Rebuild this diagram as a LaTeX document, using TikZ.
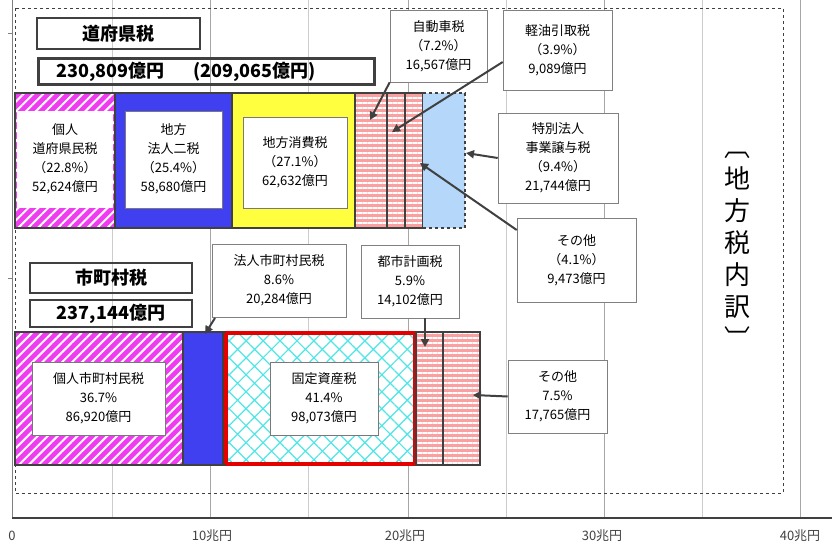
\documentclass[tikz,border=0pt]{standalone}
\usepackage{fontspec}
\setmainfont{Noto Sans CJK JP}
\usetikzlibrary{patterns,patterns.meta,arrows.meta}
\definecolor{mag}{RGB}{240,60,240}
\definecolor{blu}{RGB}{64,64,240}
\definecolor{yel}{RGB}{255,255,64}
\definecolor{pnk}{RGB}{250,160,160}
\definecolor{lblu}{RGB}{180,215,250}
\definecolor{cyn}{RGB}{80,230,230}
\definecolor{dk}{RGB}{64,64,64}
\tikzset{
 seg/.style={draw=dk,line width=1.5pt},
 inbox/.style={draw=dk!70,fill=white,line width=0.4pt},
 call/.style={draw=gray,fill=white,line width=0.6pt,align=center,font=\fontsize{13}{19}\selectfont,inner sep=2pt},
 ttl/.style={draw=dk,line width=2.5pt,font=\bfseries\fontsize{18}{19}\selectfont,inner sep=0pt},
 arr/.style={dk,line width=2pt,-{Triangle[length=8pt,width=8pt]}},
 txt/.style={align=center,font=\fontsize{13}{19}\selectfont,inner sep=0pt},
 ax/.style={font=\fontsize{13}{14}\selectfont,text=dk},
 diag/.style={pattern={Lines[angle=45,distance=7pt,line width=2pt]},pattern color=white},
 hor/.style={pattern={Lines[angle=0,distance=5pt,line width=1.2pt]},pattern color=white},
}
\begin{document}
\begin{tikzpicture}[x=1pt,y=-1pt]
\useasboundingbox (0,0) rectangle (832,553);
% grid
\foreach \x in {112,308,506,702} \draw[gray!40,line width=0.6pt] (\x,0) -- (\x,518);
\foreach \x in {210,408,604,800} \draw[gray!70,line width=1pt] (\x,0) -- (\x,518);
\draw[gray,line width=0.6pt] (12,0) -- (12,518);
\draw[gray] (8,33) -- (12,33); \draw[gray] (8,278) -- (12,278);
\draw[dk,line width=2pt] (12,518) -- (832,518);
\node[ax] (t0) at (12,536) {0};
\node[ax] (t1) at (212,536) {10兆円};
\node[ax] (t2) at (405,536) {20兆円};
\node[ax] (t3) at (602,536) {30兆円};
\node[ax] (t4) at (800,536) {40兆円};
\draw[dk,dashed,line width=0.7pt] (15,8) rectangle (783,493);
% titles
\node[ttl,minimum width=163pt,minimum height=31pt] (tt1) at (118.5,33.5) {道府県税};
\node[ttl,text width=336pt,minimum height=26pt,anchor=west,align=left] (tt2) at (37,71.5) {\hspace{18pt}230,809億円\hspace{1.6em}(209,065億円)};
\node[ttl,minimum width=162pt,minimum height=30pt] (tt3) at (111,278) {市町村税};
\node[ttl,minimum width=162pt,minimum height=27pt] (tt4) at (111,313.5) {237,144億円};
% top bar
\fill[mag] (15,93) rectangle (115,228);
\fill[diag] (15,93) rectangle (115,228);
\fill[white] (17,111) rectangle (113,208);
\draw[seg] (15,93) rectangle (115,228);
\node[txt] (p1) at (65,159) {個人\\道府県民税\\（22.8\%）\\52,624億円};
\draw[seg,fill=blu] (115,93) rectangle (232,228);
\draw[inbox] (125,111) rectangle (222,208);
\node[txt] (p2) at (173.5,159) {地方\\法人二税\\（25.4\%）\\58,680億円};
\draw[seg,fill=yel] (232,93) rectangle (355,228);
\draw[inbox] (243,117) rectangle (347,208);
\node[txt] (p3) at (295,162) {地方消費税\\（27.1\%）\\62,632億円};
\foreach \a/\b in {355/387,387/405,405/423}{
 \fill[pnk] (\a,93) rectangle (\b,228);
 \fill[hor] (\a,93) rectangle (\b,228);
 \draw[seg] (\a,93) rectangle (\b,228);}
\coordinate (car) at (370,120); \coordinate (oil) at (392,132); \coordinate (oth1) at (420,163);
\fill[lblu] (423,93) rectangle (465,228);
\draw[dk,dashed,line width=1.5pt] (423,93) -- (465,93) -- (465,228) -- (423,228);
\coordinate (spec) at (466,153);
% top callouts
\node[call,minimum width=97pt,minimum height=72pt] (c1) at (438.5,46) {自動車税\\（7.2\%）\\16,567億円};
\node[call,minimum width=109pt,minimum height=80pt] (c2) at (557.5,50) {軽油引取税\\（3.9\%）\\9,089億円};
\node[call,minimum width=120pt,minimum height=90pt] (c3) at (558,158) {特別法人\\事業譲与税\\（9.4\%）\\21,744億円};
\node[call,minimum width=119pt,minimum height=84pt] (c4) at (576.5,260) {その他\\（4.1\%）\\9,473億円};
\draw[arr] (c1.south west) -- (car);
\draw[arr] ([yshift=-12pt]c2.west) -- (oil);
\draw[arr] (c3.west) -- (spec);
\draw[arr] ([yshift=30pt]c4.west) -- (oth1);
% bottom bar
\fill[mag] (15,332) rectangle (183,465);
\fill[diag] (15,332) rectangle (183,465);
\draw[inbox] (32,362) rectangle (165,435);
\draw[seg] (15,332) rectangle (183,465);
\node[txt] (q1) at (98.5,398.5) {個人市町村民税\\36.7\%\\86,920億円};
\draw[seg,fill=blu] (183,332) rectangle (223,465);
\coordinate (corp) at (205,334);
\fill[white] (225,332) rectangle (416,465);
\fill[pattern={Hatch[angle=45,distance=12pt,line width=1.2pt]},pattern color=cyn] (225,332) rectangle (416,465);
\draw[inbox] (270,362) rectangle (378,435);
\draw[red!90!black,line width=3.5pt] (226,333) rectangle (415,464);
\node[txt] (q2) at (324,398.5) {固定資産税\\41.4\%\\98,073億円};
\foreach \a/\b in {416/443,443/480}{
 \fill[pnk] (\a,332) rectangle (\b,465);
 \fill[hor] (\a,332) rectangle (\b,465);
 \draw[seg] (\a,332) rectangle (\b,465);}
\draw[seg] (223,332) -- (226,332) (223,465) -- (226,465);
\coordinate (city) at (425,347); \coordinate (oth2) at (473,395);
\node[call,minimum width=134pt,minimum height=73pt] (d1) at (279,280.5) {法人市町村民税\\8.6\%\\20,284億円};
\node[call,minimum width=98pt,minimum height=73pt] (d2) at (410,281.5) {都市計画税\\5.9\%\\14,102億円};
\node[call,minimum width=99pt,minimum height=73pt] (d3) at (557.5,396.5) {その他\\7.5\%\\17,765億円};
\draw[arr] (215,318) -- (corp);
\draw[arr] (425,318) -- (city);
\draw[arr] (d3.west) -- (oth2);
% vertical title
\node[align=center,font=\fontsize{26}{32}\selectfont,inner sep=0pt] (vt) at (737,250) {︹\\地\\方\\税\\内\\訳\\︺};
\end{tikzpicture}
\end{document}
